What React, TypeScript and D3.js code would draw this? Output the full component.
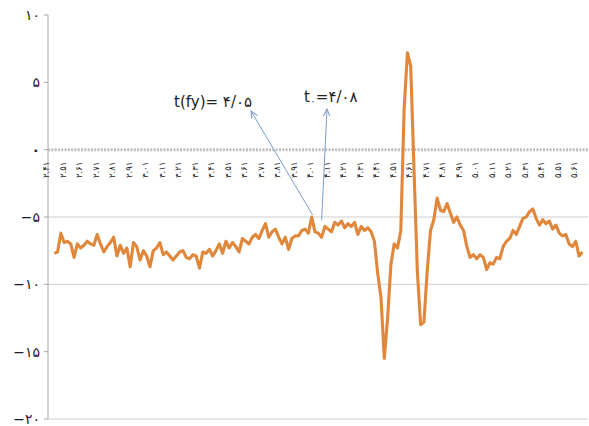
import React from "react";
import * as d3 from "d3";

// ---- data ----
const startTime = 2.46;
const timeStep = 0.02;
const seriesValues: number[] = [
  -7.7, -7.6, -6.2, -6.9, -6.8, -7.0, -8.0, -7.0, -7.3, -7.1,
  -6.8, -7.0, -7.1, -6.3, -7.0, -7.6, -7.2, -6.9, -6.5, -7.9,
  -7.1, -7.7, -7.3, -8.7, -6.9, -7.2, -8.2, -7.5, -7.9, -8.7,
  -7.5, -7.3, -6.9, -7.8, -7.6, -7.9, -8.2, -7.9, -7.6, -7.5,
  -8.0, -8.1, -7.8, -7.9, -8.8, -7.6, -7.7, -7.4, -7.9, -7.5,
  -7.0, -7.7, -6.8, -7.3, -6.9, -7.2, -7.6, -6.6, -6.8, -7.0,
  -6.5, -6.3, -6.6, -6.0, -5.5, -6.5, -6.1, -5.9, -6.5, -7.0,
  -6.5, -7.4, -6.6, -6.4, -6.4, -6.0, -5.9, -6.2, -5.0, -6.1,
  -6.2, -6.5, -5.7, -5.9, -6.1, -5.4, -5.6, -5.3, -5.8, -5.5,
  -5.7, -5.4, -6.3, -5.7, -6.0, -5.8, -6.1, -6.8, -9.2, -11.0,
  -15.5, -12.5, -8.5, -7.0, -7.3, -6.0, 3.0, 7.2, 6.2, -1.5,
  -9.0, -13.0, -12.8, -9.0, -6.0, -5.2, -3.6, -4.5, -4.6, -4.0,
  -4.7, -5.4, -5.0, -5.6, -6.0, -7.2, -8.0, -7.8, -8.1, -7.8,
  -8.0, -8.9, -8.4, -8.5, -8.0, -8.1, -7.2, -6.8, -6.6, -6.0,
  -6.3, -5.7, -5.1, -5.0, -4.6, -4.4, -5.1, -5.6, -5.2, -5.5,
  -5.3, -5.9, -5.6, -6.2, -6.4, -6.3, -7.0, -7.2, -6.8, -7.9,
  -7.6,
];

const xTickValues: number[] = [
  2.41, 2.51, 2.61, 2.71, 2.81, 2.91, 3.01, 3.11, 3.21, 3.31, 3.41,
  3.51, 3.61, 3.71, 3.81, 3.91, 4.01, 4.11, 4.21, 4.31, 4.41, 4.51,
  4.61, 4.71, 4.81, 4.91, 5.01, 5.11, 5.21, 5.31, 5.41, 5.51, 5.61,
];
const xTickLabels: string[] = [
  "۲.۴۱", "۲.۵۱", "۲.۶۱", "۲.۷۱", "۲.۸۱", "۲.۹۱", "۳.۰۱", "۳.۱۱", "۳.۲۱", "۳.۳۱", "۳.۴۱",
  "۳.۵۱", "۳.۶۱", "۳.۷۱", "۳.۸۱", "۳.۹۱", "۴.۰۱", "۴.۱۱", "۴.۲۱", "۴.۳۱", "۴.۴۱", "۴.۵۱",
  "۴.۶۱", "۴.۷۱", "۴.۸۱", "۴.۹۱", "۵.۰۱", "۵.۱۱", "۵.۲۱", "۵.۳۱", "۵.۴۱", "۵.۵۱", "۵.۶۱",
];
const yTickValues: number[] = [10, 5, 0, -5, -10, -15, -20];
const yTickLabels: string[] = ["۱۰", "۵", "۰", "−۵", "−۱۰", "−۱۵", "−۲۰"];
const gridValues: number[] = [-5, -10, -20];

const annotFy = { label: "t(fy)= ", value: "۴/۰۵", time: 4.05, y: -5.0 };
const annotT0 = { value: "=۴/۰۸", time: 4.08, y: -5.4 };

export default function App() {
  const W = 589, H = 426;
  const x = d3.scaleLinear().domain([2.41, 5.67]).range([46, 584]);
  const y = d3.scaleLinear().domain([-20, 10]).range([419, 15]);
  const pts = seriesValues.map((v, i) => [startTime + i * timeStep, v] as [number, number]);
  const line = d3.line<[number, number]>().x(d => x(d[0])).y(d => y(d[1]));
  const axisX = 48;
  const right = 588;
  const font = "'DejaVu Sans', 'Liberation Sans', sans-serif";
  const blue = "#7c9fca";
  return (
    <svg width={W} height={H} style={{ position: "absolute", left: 0, top: 0, background: "#fff" }}>
      <defs>
        <marker id="arr" viewBox="0 0 10 10" refX="9" refY="5" markerWidth="8" markerHeight="8" orient="auto-start-reverse">
          <path d="M0,1 L9,5 L0,9" fill="none" stroke={blue} strokeWidth={1.3} />
        </marker>
      </defs>
      {gridValues.map(g => (
        <line key={g} x1={axisX} x2={right} y1={y(g)} y2={y(g)} stroke="#cfcfcf" strokeWidth={1} />
      ))}
      <line x1={axisX} x2={axisX} y1={y(10)} y2={y(-20)} stroke="#a8a8a8" strokeWidth={1} />
      {yTickValues.map(v => (
        <line key={"t" + v} x1={axisX - 4} x2={axisX} y1={y(v)} y2={y(v)} stroke="#a8a8a8" />
      ))}
      {yTickValues.map((v, i) => (
        <text key={"l" + v} x={40} y={y(v) + 5} textAnchor="end" fontFamily={font} fontSize={14}
          fontWeight={v === 0 ? "bold" : "normal"} fill="#1a1a2a">
          {yTickLabels[i]}
        </text>
      ))}
      {/* zero category axis */}
      <line x1={axisX} x2={right} y1={y(0)} y2={y(0)} stroke="#bdbdbd" strokeWidth={3} strokeDasharray="2 1.3" />
      {xTickValues.map((v, i) => (
        <text key={"x" + i} transform={`translate(${x(v) + 3},${178}) rotate(-90)`} textAnchor="start"
          fontFamily={font} fontSize={8.5} fill="#222">
          {xTickLabels[i]}
        </text>
      ))}
      <path d={line(pts) || ""} fill="none" stroke="#e0873b" strokeWidth={3.1} strokeLinejoin="round" />
      {/* annotations */}
      <line x1={x(annotFy.time) - 4} y1={y(annotFy.y) - 2} x2={251} y2={111} stroke={blue} strokeWidth={1} markerEnd="url(#arr)" />
      <line x1={x(annotT0.time)} y1={y(annotT0.y) - 2} x2={327} y2={109} stroke={blue} strokeWidth={1} markerEnd="url(#arr)" />
      <text x={174} y={107} fontFamily={font} fontSize={15} fill="#222">
        {annotFy.label}
        <tspan>{annotFy.value}</tspan>
      </text>
      <text x={304} y={102} fontFamily={font} fontSize={15} fill="#222">
        t<tspan fill="#2f5fb0" fontSize={11} dy={3}>۰</tspan>
        <tspan dy={-3}>{annotT0.value}</tspan>
      </text>
    </svg>
  );
}
